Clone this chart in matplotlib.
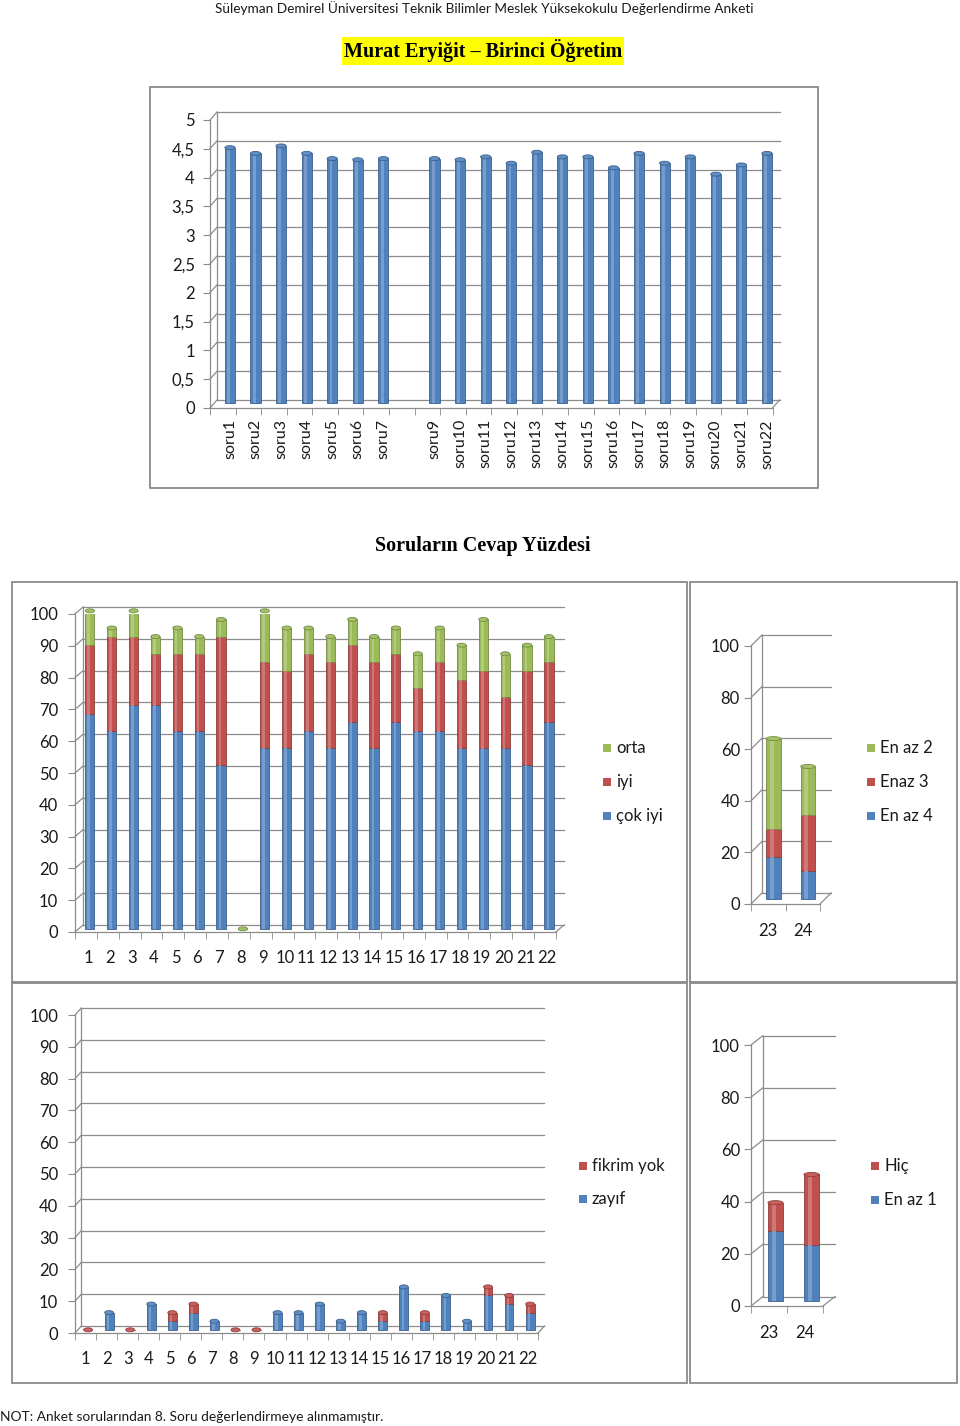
import numpy as np
import matplotlib
matplotlib.use('Agg')
import matplotlib.pyplot as plt
from matplotlib.patches import Rectangle, Ellipse
from matplotlib.colors import to_rgb

plt.rcParams['font.family'] = ['Lato', 'DejaVu Sans']

# --- data ---
top_labels = ['soru1', 'soru2', 'soru3', 'soru4', 'soru5', 'soru6', 'soru7', '',
              'soru9', 'soru10', 'soru11', 'soru12', 'soru13', 'soru14', 'soru15',
              'soru16', 'soru17', 'soru18', 'soru19', 'soru20', 'soru21', 'soru22']
top_means = [4.44, 4.34, 4.47, 4.34, 4.25, 4.23, 4.25, np.nan, 4.25, 4.23, 4.28,
             4.17, 4.36, 4.28, 4.28, 4.09, 4.34, 4.17, 4.28, 3.98, 4.14, 4.34]

q_labels = [str(i) for i in range(1, 23)]
cok_iyi = [67.6, 62.2, 70.3, 70.3, 62.2, 62.2, 51.4, 0, 56.8, 56.8, 62.2,
           56.8, 64.9, 56.8, 64.9, 62.2, 62.2, 56.8, 56.8, 56.8, 51.4, 64.9]
iyi = [21.6, 29.7, 21.6, 16.2, 24.3, 24.3, 40.5, 0, 27.0, 24.3, 24.3,
       27.0, 24.3, 27.0, 21.6, 13.5, 21.6, 21.6, 24.3, 16.2, 29.7, 18.9]
orta = [10.8, 2.7, 8.1, 5.4, 8.1, 5.4, 5.4, 0, 16.2, 13.5, 8.1,
        8.1, 8.1, 8.1, 8.1, 10.8, 10.8, 10.8, 16.2, 13.5, 8.1, 8.1]
zayif = [0, 5.4, 0, 8.1, 2.7, 5.4, 2.7, 0, 0, 5.4, 5.4,
         8.1, 2.7, 5.4, 2.7, 13.5, 2.7, 10.8, 2.7, 10.8, 8.1, 5.4]
fikrim_yok = [0, 0, 0, 0, 2.7, 2.7, 0, 0, 0, 0, 0,
              0, 0, 0, 2.7, 0, 2.7, 0, 0, 2.7, 2.7, 2.7]

r_labels = ['23', '24']
en_az_4 = [16.2, 10.8]
enaz_3 = [10.8, 21.6]
en_az_2 = [35.1, 18.9]
en_az_1 = [27.0, 21.6]
hic = [10.8, 27.0]

BLUE, RED, GREEN = '#4F81BD', '#C0504D', '#9BBB59'
GRID = '#8c8c8c'
TXT = '#1a1a1a'

W, H = 960, 1426
fig = plt.figure(figsize=(W / 100, H / 100), dpi=100)


def mix(c, f):
    r = np.array(to_rgb(c))
    if f > 0:
        return tuple(r + (1 - r) * f)
    return tuple(r * (1 + f))


def px_axes(x0, x1, ytop, ybot):
    ax = fig.add_axes([x0 / W, 1 - ybot / H, (x1 - x0) / W, (ybot - ytop) / H])
    ax.patch.set_visible(False)
    return ax


def panel(x0, y0, x1, y1):
    fig.add_artist(Rectangle((x0 / W, 1 - y1 / H), (x1 - x0) / W, (y1 - y0) / H,
                             transform=fig.transFigure, facecolor='white',
                             edgecolor='#8a8a8a', lw=1.3, zorder=-5))


def frame3d(ax, n, ymax, yticks, ylabels, dx, dy, xlabels, loff, xfs=12,
            rot=0, xpad=13, ypad=7):
    ax.set_xlim(-0.5, n - 0.5)
    ax.set_ylim(0, ymax)
    kw = dict(color=GRID, lw=0.9, clip_on=False, zorder=1)
    for v in yticks:
        ax.plot([-0.5, -0.5 + dx], [v, v + dy], **kw)
        ax.plot([-0.5 + dx, n - 0.5 + dx], [v + dy, v + dy], **kw)
    ax.plot([-0.5 + dx, -0.5 + dx], [dy, yticks[-1] + dy], **kw)
    ax.plot([n - 0.5, n - 0.5 + dx], [0, dy], **kw)
    for s in ['top', 'right']:
        ax.spines[s].set_visible(False)
    for s in ['left', 'bottom']:
        ax.spines[s].set_color(GRID)
        ax.spines[s].set_linewidth(0.9)
    ax.set_yticks(yticks, ylabels)
    ax.tick_params(axis='y', direction='out', length=5, color=GRID,
                   labelsize=12, pad=ypad, labelcolor=TXT)
    ax.set_xticks(np.arange(n) + loff, xlabels, rotation=rot)
    ax.set_xticks(np.arange(n + 1) - 0.5, minor=True)
    ax.tick_params(axis='x', which='major', length=0, pad=xpad,
                   labelsize=xfs, labelcolor=TXT)
    ax.tick_params(axis='x', which='minor', direction='out', length=5, color=GRID)


def stacked(ax, series, colors, boff, width, cap, base):
    n = len(series[0])
    x = np.arange(n) + boff
    bottom = np.full(n, float(base))
    ok = np.ones(n, dtype=bool)
    for vals in series:
        ok &= ~np.isnan(np.asarray(vals, dtype=float))
    for vals, col in zip(series, colors):
        vals = np.asarray(vals, dtype=float)
        ax.bar(x[ok], vals[ok], width, bottom=bottom[ok], color=col,
               edgecolor=mix(col, -0.25), lw=0.6, zorder=3)
        ax.bar(x[ok] - width * 0.12, vals[ok], width * 0.28, bottom=bottom[ok],
               color=mix(col, 0.22), lw=0, zorder=3.5)
        bottom[ok] += vals[ok]
    for i in np.where(ok)[0]:
        col = colors[-1]
        for vals, c in zip(series, colors):
            if vals[i] > 0:
                col = c
        ax.add_patch(Ellipse((x[i], bottom[i]), width, cap, facecolor=mix(col, 0.1),
                             edgecolor=mix(col, -0.25), lw=0.6, zorder=4, clip_on=False))


def legend(entries, x, ys, size=12):
    for (lab, col), y in zip(entries, ys):
        fig.add_artist(Rectangle(((x - 4) / W, 1 - (y + 4) / H), 8 / W, 8 / H,
                                 transform=fig.transFigure, facecolor=col, lw=0))
        fig.text((x + 9) / W, 1 - y / H, lab, ha='left', va='center',
                 fontsize=size, color=TXT)


# --- header texts ---
fig.text(484 / W, 1 - 8 / H,
         'Süleyman Demirel Üniversitesi Teknik Bilimler Meslek Yüksekokulu Değerlendirme Anketi',
         ha='center', va='center', fontsize=9.8, color=TXT)
fig.text(483 / W, 1 - 51 / H, 'Murat Eryiğit – Birinci Öğretim', ha='center', va='center',
         fontsize=14.5, fontweight='bold', family=['Liberation Serif', 'DejaVu Serif'],
         bbox=dict(facecolor='#ffff00', edgecolor='none', pad=1.5))
fig.text(483 / W, 1 - 546 / H, 'Soruların Cevap Yüzdesi', ha='center', va='center',
         fontsize=14.5, fontweight='bold', family=['Liberation Serif', 'DejaVu Serif'])
fig.text(0, 1 - 1417 / H, 'NOT: Anket sorularından 8. Soru değerlendirmeye alınmamıştır.',
         ha='left', va='center', fontsize=9.9, color=TXT)

# --- top chart: means ---
panel(150, 87, 818, 488)
ax = px_axes(210, 210 + 22 * 25.57, 120, 408)
yt = np.arange(0, 5.01, 0.5)
frame3d(ax, 22, 5, yt, [f'{v:g}'.replace('.', ',') for v in yt],
        0.274, 0.139, top_labels, 0.28, xfs=11.5, rot=90, xpad=8, ypad=6)
stacked(ax, [top_means], [BLUE], 0.28, 0.4, 4 / 57.6, 0.08)

# --- middle-left: çok iyi / iyi / orta ---
panel(12, 582, 687, 982)
ax = px_axes(75, 75 + 22 * 21.86, 614, 932)
yt = np.arange(0, 101, 10)
frame3d(ax, 22, 100, yt, [str(v) for v in yt], 0.37, 2.2, q_labels, 0.1)
stacked(ax, [cok_iyi, iyi, orta], [BLUE, RED, GREEN], 0.18, 0.42, 4 / 3.18, 1.0)
legend([('orta', GREEN), ('iyi', RED), ('çok iyi', BLUE)], 607, [748, 782, 816])

# --- middle-right: 23, 24 ---
panel(690, 582, 957, 982)
ax = px_axes(751, 751 + 2 * 34.5, 646, 904)
yt = np.arange(0, 101, 20)
frame3d(ax, 2, 100, yt, [str(v) for v in yt], 0.32, 4.3, r_labels, 0.0,
        xpad=14, ypad=3)
stacked(ax, [en_az_4, enaz_3, en_az_2], [BLUE, RED, GREEN], 0.15, 0.42, 4 / 2.58, 2.0)
legend([('En az 2', GREEN), ('Enaz 3', RED), ('En az 4', BLUE)], 871, [748, 782, 816])

# --- bottom-left: zayıf / fikrim yok ---
panel(12, 983, 687, 1383)
ax = px_axes(75, 75 + 22 * 21.05, 1015, 1333)
yt = np.arange(0, 101, 10)
frame3d(ax, 22, 100, yt, [str(v) for v in yt], 0.3, 2.2, q_labels, 0.0)
stacked(ax, [zayif, fikrim_yok], [BLUE, RED], 0.12, 0.42, 4 / 3.18, 1.0)
legend([('fikrim yok', RED), ('zayıf', BLUE)], 583, [1166, 1199])

# --- bottom-right: 23, 24 ---
panel(690, 983, 957, 1383)
ax = px_axes(751, 751 + 2 * 36, 1045, 1306)
yt = np.arange(0, 101, 20)
frame3d(ax, 2, 100, yt, [str(v) for v in yt], 0.33, 3.6, r_labels, 0.0,
        xpad=14, ypad=3)
stacked(ax, [en_az_1, hic], [BLUE, RED], 0.18, 0.42, 4 / 2.62, 1.8)
legend([('Hiç', RED), ('En az 1', BLUE)], 875, [1166, 1200])

fig.savefig('out.png', dpi=100)
